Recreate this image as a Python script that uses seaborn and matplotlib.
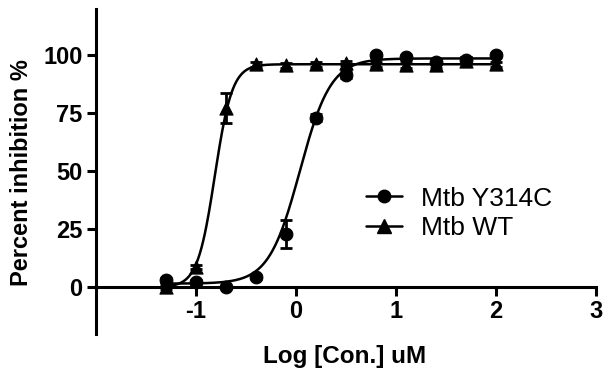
import numpy as np
import matplotlib
matplotlib.use("Agg")
import matplotlib.pyplot as plt
import seaborn as sns
from matplotlib.lines import Line2D

# Data
log_conc = [-1.3, -1.0, -0.7, -0.4, -0.1, 0.2, 0.5, 0.8, 1.1, 1.4, 1.7, 2.0]

y314c_mean = [3.0, 2.0, 0.0, 4.3, 23.0, 73.0, 91.5, 100.0, 99.0, 97.0, 98.0, 100.0]
y314c_sd = [1.0, 1.0, 0.5, 1.0, 6.0, 1.5, 1.5, 1.0, 1.0, 1.0, 1.0, 1.0]

wt_mean = [0.0, 8.6, 77.0, 96.0, 95.5, 96.0, 96.5, 96.0, 95.5, 95.5, 97.5, 96.0]
wt_sd = [1.0, 1.0, 6.5, 1.0, 1.0, 1.0, 1.0, 1.0, 1.0, 1.0, 1.5, 1.0]

# 4PL fit parameters (bottom, top, logIC50, hill)
y314c_fit = [1.5, 98.5, 0.04, 2.8]
wt_fit = [0.0, 96.0, -0.81, 5.0]

labels = ["Mtb Y314C", "Mtb WT"]
x_ticks = [-1, 0, 1, 2, 3]
y_ticks = [0, 25, 50, 75, 100]


def four_pl(x, p):
    bottom, top, logic50, hill = p
    return bottom + (top - bottom) / (1 + 10 ** ((logic50 - x) * hill))


sns.set_style("ticks")
plt.rcParams['font.family'] = ['Liberation Sans', 'DejaVu Sans']
plt.rcParams.update({
    'text.color': 'black',
    'axes.labelcolor': 'black',
    'axes.edgecolor': 'black',
    'xtick.color': 'black',
    'ytick.color': 'black',
})

fig = plt.figure(figsize=(6.03, 3.71), dpi=100)
ax = fig.add_axes([0.159, 0.101, 0.829, 0.876])

x_fit = np.linspace(log_conc[0], log_conc[-1], 400)

sns.lineplot(x=x_fit, y=four_pl(x_fit, y314c_fit), ax=ax, color="black", lw=1.8)
sns.lineplot(x=x_fit, y=four_pl(x_fit, wt_fit), ax=ax, color="black", lw=1.8)

ax.errorbar(log_conc, y314c_mean, yerr=y314c_sd, fmt="none", ecolor="black",
            elinewidth=2, capsize=4, capthick=2)
ax.errorbar(log_conc, wt_mean, yerr=wt_sd, fmt="none", ecolor="black",
            elinewidth=2, capsize=4, capthick=2)

sns.scatterplot(x=log_conc, y=y314c_mean, ax=ax, marker="o", s=85,
                color="black", edgecolor="black", zorder=3)
sns.scatterplot(x=log_conc, y=wt_mean, ax=ax, marker="^", s=90,
                color="black", edgecolor="black", zorder=3)

# spines first, since moving a spine resets the ticks
ax.spines['bottom'].set_position(('data', 0))
ax.spines['bottom'].set_bounds(-2, 3)
ax.spines['left'].set_bounds(-20, 120)
for s in ['top', 'right']:
    ax.spines[s].set_visible(False)
for s in ['bottom', 'left']:
    ax.spines[s].set_linewidth(2.2)
    ax.spines[s].set_color("black")

ax.set_xlim(-2, 3)
ax.set_ylim(-20, 120)
ax.set_xticks(x_ticks)
ax.set_yticks(y_ticks)
ax.set_xticklabels([str(t) for t in x_ticks], fontsize=17, fontweight="bold")
ax.set_yticklabels([str(t) for t in y_ticks], fontsize=17, fontweight="bold")
ax.tick_params(axis='both', width=2.2, length=6.5, color="black",
               labelcolor="black")
ax.tick_params(axis='x', pad=3)
ax.tick_params(axis='y', pad=3)

ax.set_xlabel("")
ax.set_ylabel("Percent inhibition %", fontsize=17, fontweight="bold",
              color="black")
ax.yaxis.set_label_coords(-0.126, 0.494)
fig.text(0.572, 0.0216, "Log [Con.] uM", fontsize=17.5, fontweight="bold",
         ha="center", va="baseline", color="black")

handles = [
    Line2D([0], [0], color="black", lw=1.8, marker="o", markersize=9),
    Line2D([0], [0], color="black", lw=1.8, marker="^", markersize=10),
]
fig.legend(handles, labels, loc="center left", bbox_to_anchor=(0.607, 0.4245),
           frameon=False, fontsize=19, handlelength=1.35, handletextpad=0.75,
           labelspacing=0.22, borderpad=0, borderaxespad=0)

fig.savefig("out.png", dpi=100)
